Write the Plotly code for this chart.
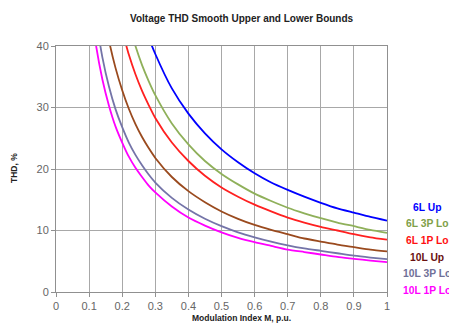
import plotly.graph_objects as go

# Modulation index (p.u.)
m_index = [0.10, 0.12, 0.14, 0.16, 0.18, 0.20, 0.22, 0.24, 0.26, 0.28, 0.30,
           0.35, 0.40, 0.45, 0.50, 0.55, 0.60, 0.65, 0.70, 0.75, 0.80, 0.85, 0.90, 0.95, 1.00]

thd_6l_up = [None, None, None, None, None, None, None, None, 44.6, 41.4, 38.7,
             33.1, 29.0, 25.8, 23.2, 21.1, 19.3, 17.8, 16.6, 15.5, 14.5, 13.6, 12.9, 12.2, 11.6]
thd_6l_3p_lo = [None, None, None, None, None, None, 43.6, 40.0, 36.9, 34.3, 32.0,
                27.4, 24.0, 21.3, 19.2, 17.5, 16.0, 14.8, 13.7, 12.8, 12.0, 11.3, 10.7, 10.1, 9.6]
thd_6l_1p_lo = [None, None, None, None, None, 42.5, 38.6, 35.4, 32.7, 30.4, 28.3,
                24.3, 21.3, 18.9, 17.0, 15.5, 14.2, 13.1, 12.1, 11.3, 10.6, 10.0, 9.4, 8.9, 8.5]
thd_10l_up = [None, None, 46.8, 40.9, 36.4, 32.8, 29.8, 27.3, 25.2, 23.4, 21.8,
              18.7, 16.4, 14.6, 13.1, 11.9, 10.9, 10.1, 9.4, 8.7, 8.2, 7.7, 7.3, 6.9, 6.6]
thd_10l_3p_lo = [None, 44.6, 38.2, 33.4, 29.7, 26.8, 24.3, 22.3, 20.6, 19.1, 17.8,
                 15.3, 13.4, 11.9, 10.7, 9.7, 8.9, 8.2, 7.6, 7.1, 6.7, 6.3, 5.9, 5.6, 5.35]
thd_10l_1p_lo = [48.5, 40.4, 34.6, 30.3, 26.9, 24.3, 22.0, 20.2, 18.7, 17.3, 16.2,
                 13.9, 12.1, 10.8, 9.7, 8.8, 8.1, 7.5, 6.9, 6.5, 6.1, 5.7, 5.4, 5.1, 4.85]

series_names = ["6L Up", "6L 3P Lo", "6L 1P Lo", "10L Up", "10L 3P Lo", "10L 1P Lo"]
series_values = [thd_6l_up, thd_6l_3p_lo, thd_6l_1p_lo, thd_10l_up, thd_10l_3p_lo, thd_10l_1p_lo]
line_colors = ["#0000FF", "#8FB05A", "#FF2020", "#9A4A1E", "#7474A8", "#FF00FF"]
label_colors = ["#0000FF", "#7FA048", "#FF1010", "#6A1010", "#707098", "#FF00FF"]

x_ticks = [0, 0.1, 0.2, 0.3, 0.4, 0.5, 0.6, 0.7, 0.8, 0.9, 1]
x_tick_text = ["0", "0.1", "0.2", "0.3", "0.4", "0.5", "0.6", "0.7", "0.8", "0.9", "1"]
y_ticks = [0, 10, 20, 30, 40]

fig = go.Figure()
for name, vals, col in zip(series_names, series_values, line_colors):
    fig.add_trace(go.Scatter(x=m_index, y=vals, mode="lines", name=name,
                             line=dict(color=col, width=1.8, shape="spline", smoothing=0.6),
                             showlegend=False))

# page body has an 8px margin: the figure starts at (8, 8) in the window
OFF = 8
W, H = 457 - OFF, 327 - OFF
ml, mr, mt, mb = 56 - OFF, 70, 46 - OFF, 35
pw, ph = W - ml - mr, H - mt - mb


def px(xs):
    return (xs - OFF - ml) / pw


def py(ys):
    return (H - mb - (ys - OFF)) / ph


label_y_px = [207, 223.5, 240, 257, 273, 290]
for name, col, ypx in zip(series_names, label_colors, label_y_px):
    fig.add_annotation(text="<b>" + name + "</b>", x=px(427), xref="paper",
                       y=py(ypx), yref="paper",
                       showarrow=False, font=dict(size=10.3, color=col, family="Liberation Sans, Arial"),
                       xanchor="center", yanchor="middle")

fig.add_annotation(text="<b>THD, %</b>", x=px(14), xref="paper",
                   y=py(168), yref="paper", textangle=-90, showarrow=False,
                   font=dict(size=8.5, color="#222222", family="Liberation Sans, Arial"),
                   xanchor="center", yanchor="middle")
fig.add_annotation(text="<b>Modulation Index M, p.u.</b>", x=px(241), xref="paper",
                   y=py(318), yref="paper", showarrow=False,
                   font=dict(size=8.5, color="#222222", family="Liberation Sans, Arial"),
                   xanchor="center", yanchor="middle")
fig.add_annotation(text="<b>Voltage THD Smooth Upper and Lower Bounds</b>", x=px(242), xref="paper",
                   y=py(19), yref="paper", showarrow=False,
                   font=dict(size=10, color="#222222", family="Liberation Sans, Arial"),
                   xanchor="center", yanchor="middle")

fig.update_layout(
    width=W, height=H,
    margin=dict(l=ml, r=mr, t=mt, b=mb, autoexpand=False),
    paper_bgcolor="white", plot_bgcolor="white",
    font=dict(family="Liberation Sans, Arial", color="#444444"),
    xaxis=dict(range=[0, 1], tickvals=x_ticks, ticktext=x_tick_text, automargin=False,
               showgrid=True, gridcolor="#A8A8A8", gridwidth=1,
               showline=True, linecolor="#909090", linewidth=1, mirror=True,
               ticks="outside", ticklen=4, tickcolor="#909090",
               tickfont=dict(size=11, color="#666666"), zeroline=False),
    yaxis=dict(range=[0, 40], tickvals=y_ticks, automargin=False,
               showgrid=True, gridcolor="#A8A8A8", gridwidth=1,
               showline=True, linecolor="#909090", linewidth=1, mirror=True,
               ticks="outside", ticklen=4, tickcolor="#909090",
               tickfont=dict(size=11, color="#666666"), zeroline=False),
)

fig.write_html("out.html")
